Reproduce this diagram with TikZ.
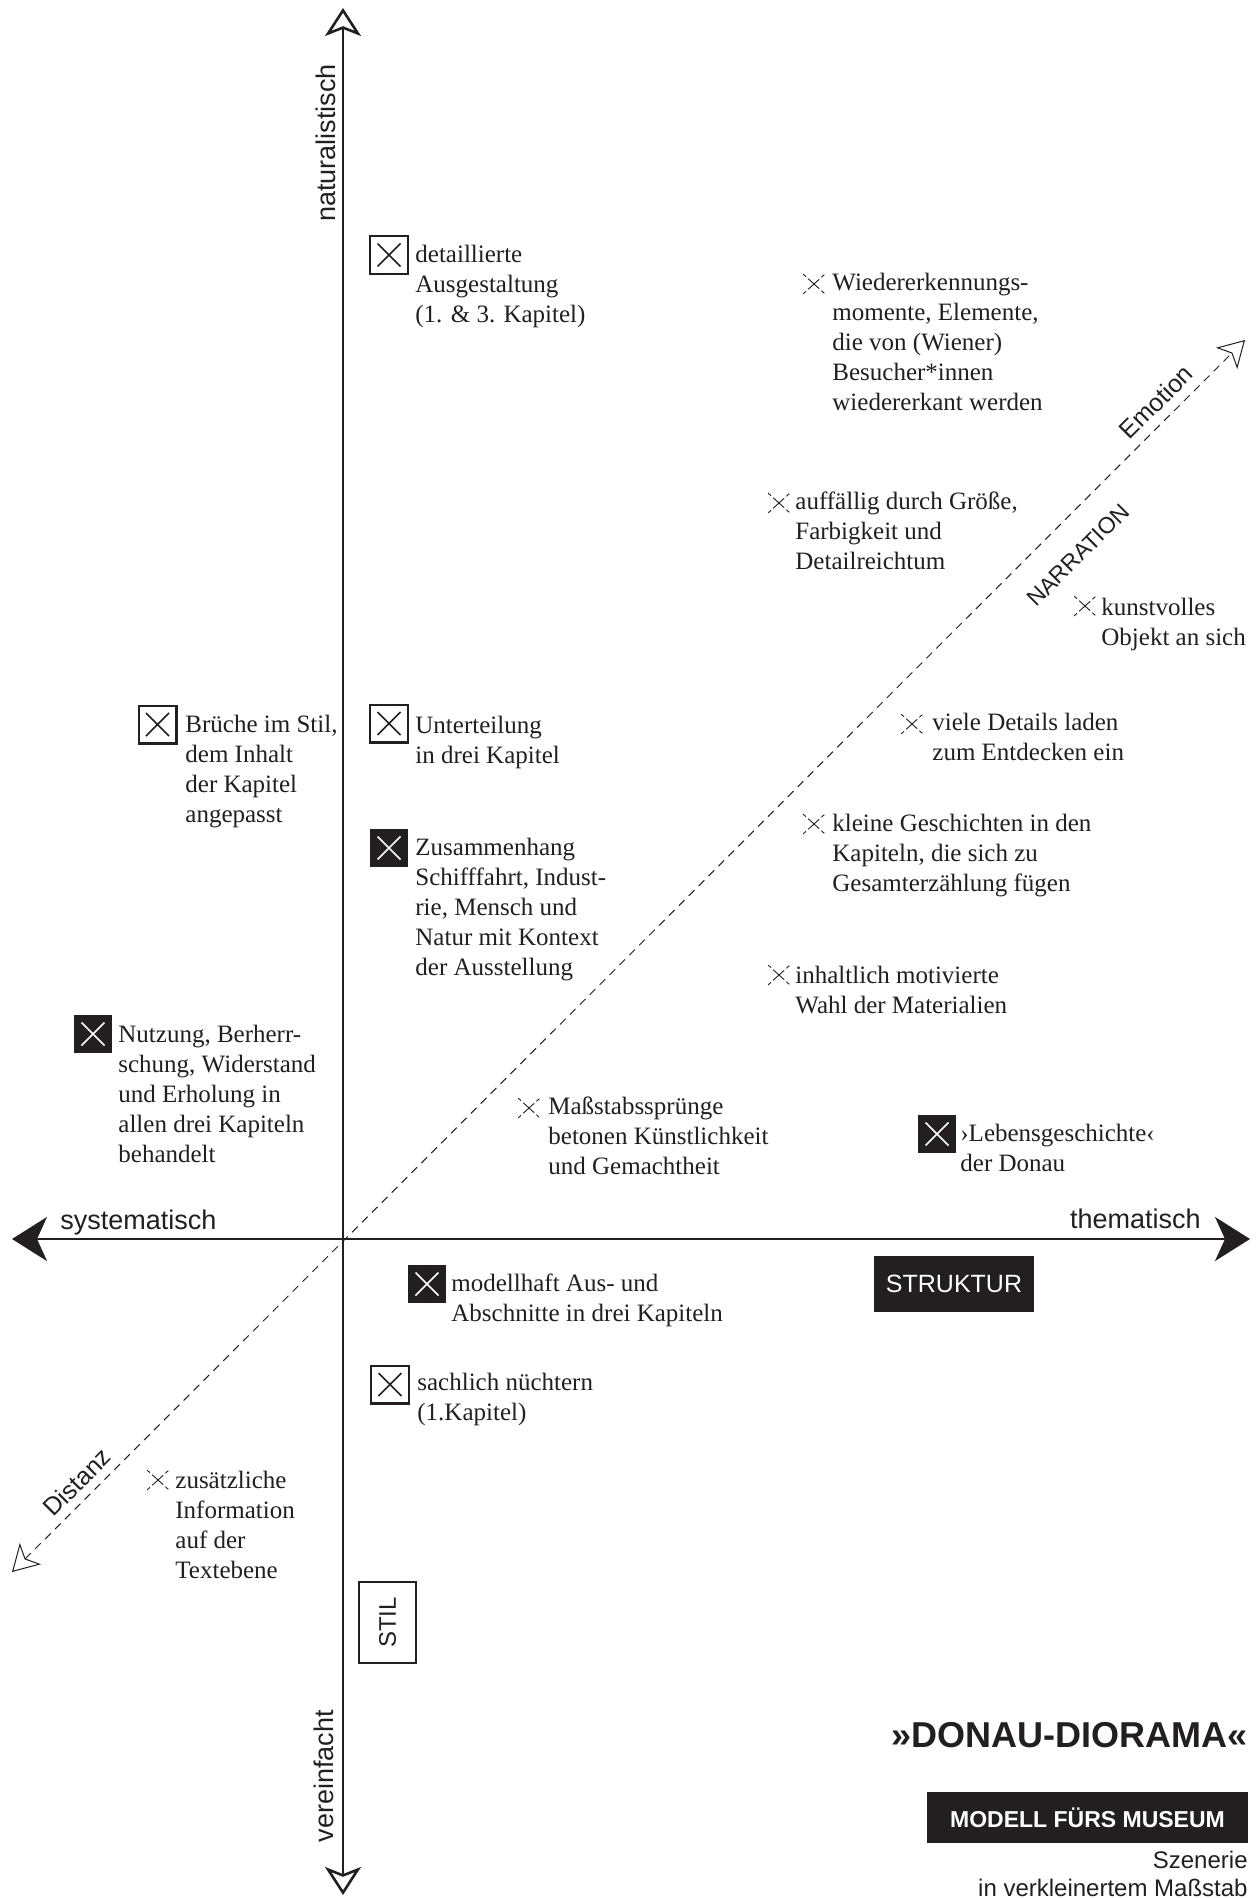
\documentclass[tikz,border=0pt]{standalone}
\usepackage{fontspec}
\setmainfont{Liberation Serif}
\setsansfont{Liberation Sans}
\usetikzlibrary{arrows.meta}
\definecolor{ink}{HTML}{231F20}

\begin{document}
\begin{tikzpicture}[x=0.5pt,y=-0.5pt,
  % X drawn inside a marker square
  xcross/.style={path picture={
    \draw[#1, line width=0.85pt]
      ([shift={(-5.75pt,-5.75pt)}]path picture bounding box.center) --
      ([shift={(5.75pt,5.75pt)}]path picture bounding box.center)
      ([shift={(-5.75pt,5.75pt)}]path picture bounding box.center) --
      ([shift={(5.75pt,-5.75pt)}]path picture bounding box.center);}},
  openmark/.style={draw=ink, line width=1.15pt, fill=white, minimum size=18.85pt,
    inner sep=0pt, xcross=ink},
  fillmark/.style={fill=ink, minimum size=19pt, inner sep=0pt, xcross=white},
  dashmark/.style={minimum width=11pt, minimum height=10pt, inner sep=0pt,
    path picture={
      \draw[ink, line width=0.45pt,
            dash pattern=on 2pt off 1.5pt on 7.4pt off 1.5pt on 2pt]
        (path picture bounding box.north west) -- (path picture bounding box.south east)
        (path picture bounding box.south west) -- (path picture bounding box.north east);}},
  note/.style={anchor=north west, inner sep=0pt, align=left, text=ink,
    font=\fontsize{12.5}{15}\selectfont, execute at begin node=\strut},
  axislabel/.style={font=\sffamily\fontsize{13.5}{16}\selectfont, text=ink, inner sep=0pt},
  diaglabel/.style={font=\sffamily\fontsize{12.5}{15}\selectfont, text=ink, inner sep=0pt, rotate=45},
  axisline/.style={draw=ink, line width=1.3pt},
]
% canvas
\useasboundingbox (0,0) rectangle (1259,1898);
\fill[white] (0,0) rectangle (1259,1898);

% ---- axes ----
\coordinate (ytop) at (343,8);
\coordinate (ybot) at (343,1895);
\coordinate (xleft) at (12,1239);
\coordinate (xright) at (1250,1239);
\coordinate (dlow) at (12,1572);
\coordinate (dhigh) at (1245,340);

\draw[ink, line width=0.5pt, dash pattern=on 4pt off 3pt,
      {Stealth[open, length=13pt, width=15pt, inset=3.5pt]}-{Stealth[open, length=13pt, width=15pt, inset=3.5pt]}]
  (dlow) -- (dhigh);
\draw[axisline, {Stealth[open, length=14pt, width=18pt, inset=3.5pt]}-{Stealth[open, length=14pt, width=18pt, inset=3.5pt]}]
  (ybot) -- (ytop);
\draw[axisline, {Stealth[length=17.5pt, width=22pt, inset=5pt]}-{Stealth[length=17.5pt, width=22pt, inset=5pt]}]
  (xleft) -- (xright);

% axis labels
\node[axislabel, rotate=90, anchor=base] (lnat) at (335,143) {naturalistisch};
\node[axislabel, rotate=90, anchor=base] (lver) at (333,1776) {vereinfacht};
\node[axislabel, anchor=base west] (lsys) at (60,1229) {systematisch};
\node[axislabel, anchor=base east] (lthe) at (1201,1228) {thematisch};
\node[diaglabel] (lemo) at (1156,402) {Emotion};
\node[diaglabel, font=\sffamily\fontsize{11.5}{14}\selectfont] (lnar) at (1078,555) {NARRATION};
\node[diaglabel] (ldis) at (77,1482) {Distanz};

% ---- entries ----
\node[openmark] (mA) at (389,255) {};
\node[note] (tA) at (415,245) {detaillierte\\Ausgestaltung\\(1. \& 3. Kapitel)};

\node[dashmark] (mB) at (814,284) {};
\node[note] (tB) at (832,273) {Wiedererkennungs-\\momente, Elemente,\\die von (Wiener)\\Besucher*innen\\wiedererkant werden};

\node[dashmark] (mC) at (779,503) {};
\node[note] (tC) at (795,491) {auffällig durch Größe,\\Farbigkeit und\\Detailreichtum};

\node[dashmark] (mD) at (1085,606) {};
\node[note] (tD) at (1101,598) {kunstvolles\\Objekt an sich};

\node[dashmark] (mE) at (912,724) {};
\node[note] (tE) at (932,713) {viele Details laden\\zum Entdecken ein};

\node[dashmark] (mF) at (814,824) {};
\node[note] (tF) at (832,814) {kleine Geschichten in den\\Kapiteln, die sich zu\\Gesamterzählung fügen};

\node[dashmark] (mG) at (779,975) {};
\node[note] (tG) at (795,966) {inhaltlich motivierte\\Wahl der Materialien};

\node[dashmark] (mH) at (529,1108) {};
\node[note] (tH) at (548,1096) {Maßstabssprünge\\betonen Künstlichkeit\\und Gemachtheit};

\node[fillmark] (mI) at (937,1134) {};
\node[note] (tI) at (960,1124) {›Lebensgeschichte‹\\der Donau};

\node[openmark] (mK) at (157.5,724.5) {};
\node[note] (tK) at (185,715) {Brüche im Stil,\\dem Inhalt\\der Kapitel\\angepasst};

\node[openmark] (mL) at (389,723.5) {};
\node[note] (tL) at (415,716) {Unterteilung\\in drei Kapitel};

\node[fillmark] (mM) at (389,848) {};
\node[note] (tM) at (415,838) {Zusammenhang\\Schifffahrt, Indust-\\rie, Mensch und\\Natur mit Kontext\\der Ausstellung};

\node[fillmark] (mN) at (93,1034) {};
\node[note] (tN) at (118,1025) {Nutzung, Berherr-\\schung, Widerstand\\und Erholung in\\allen drei Kapiteln\\behandelt};

\node[fillmark] (mO) at (427,1284) {};
\node[note] (tO) at (451,1273) {modellhaft Aus- und\\Abschnitte in drei Kapiteln};

\node[openmark] (mP) at (390,1384.5) {};
\node[note] (tP) at (417,1373) {sachlich nüchtern\\(1.Kapitel)};

\node[dashmark] (mR) at (158,1480) {};
\node[note] (tR) at (175,1471) {zusätzliche\\Information\\auf der\\Textebene};

% ---- category tags ----
\node[fill=ink, text=white, minimum width=80pt, minimum height=28pt, inner sep=0pt,
      font=\sffamily\fontsize{12.5}{15}\selectfont] (struktur) at (954,1284) {STRUKTUR};
\node[draw=ink, line width=0.8pt, rotate=90, minimum width=40.5pt, minimum height=28.5pt,
      inner sep=0pt, text=ink, font=\sffamily\fontsize{12}{14}\selectfont] (stil) at (387.5,1622.5) {STIL};

% ---- title block ----
\node[anchor=base east, inner sep=0pt, text=ink, font=\sffamily\bfseries\fontsize{18}{21}\selectfont]
  (title) at (1248,1747) {»DONAU-DIORAMA«};
\node[fill=ink, text=white, minimum width=160.5pt, minimum height=25.5pt, inner sep=0pt,
      font=\sffamily\bfseries\fontsize{11.5}{14}\selectfont] (subtitle) at (1087.5,1817.5) {MODELL FÜRS MUSEUM};
\node[anchor=north east, inner sep=0pt, align=right, text=ink,
      font=\sffamily\fontsize{12}{14}\selectfont, execute at begin node=\strut]
  (caption) at (1248,1851) {Szenerie\\in verkleinertem Maßstab};
\end{tikzpicture}
\end{document}
